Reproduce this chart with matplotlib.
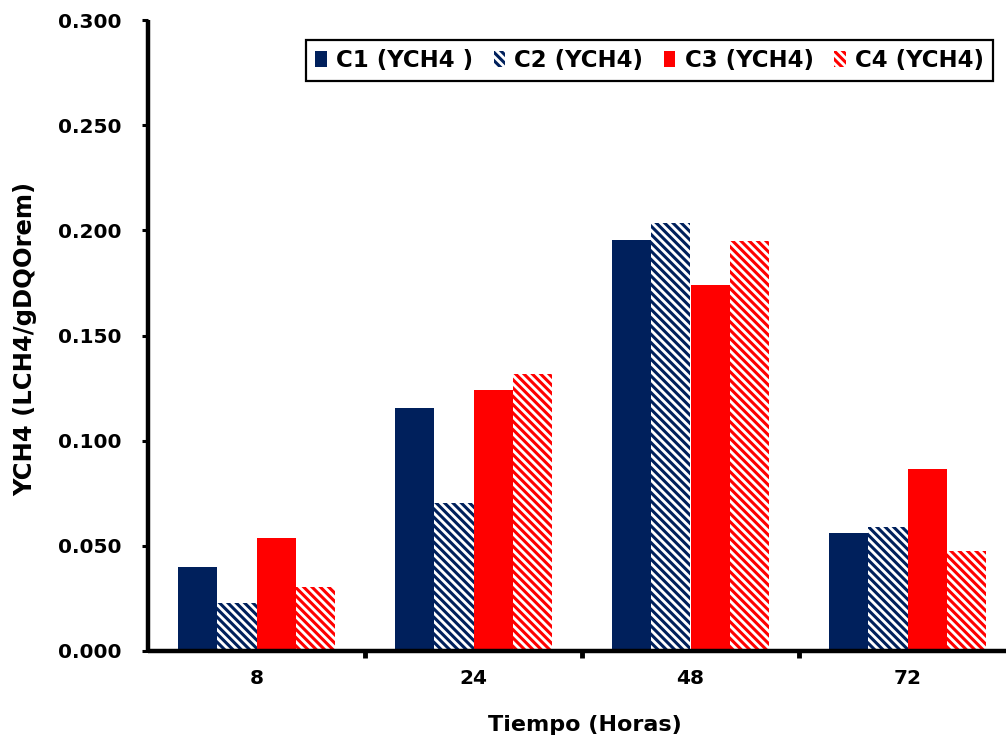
import matplotlib
matplotlib.use("Agg")
import matplotlib.pyplot as plt
import numpy as np

# Data
tiempos = ["8", "24", "48", "72"]
series_names = ["C1 (YCH4 )", "C2 (YCH4)", "C3 (YCH4)", "C4 (YCH4)"]
c1 = [0.040, 0.1155, 0.1955, 0.0562]
c2 = [0.0228, 0.0704, 0.2035, 0.0590]
c3 = [0.0537, 0.1240, 0.1740, 0.0865]
c4 = [0.0304, 0.1317, 0.1950, 0.0475]
y_ticks = [0.000, 0.050, 0.100, 0.150, 0.200, 0.250, 0.300]

navy = "#00205C"
red = "#FF0000"

plt.rcParams["font.family"] = ["DejaVu Sans"]
plt.rcParams["font.weight"] = "bold"
plt.rcParams["hatch.linewidth"] = 2.2

W, H = 1006, 743
fig = plt.figure(figsize=(W / 100, H / 100), dpi=100)
ax = fig.add_axes([148 / W, (H - 651) / H, (W - 148) / W, 631 / H])

x = np.arange(len(tiempos))
bw = 0.18
offsets = [-1.5 * bw, -0.5 * bw, 0.5 * bw, 1.5 * bw]
styles = [
    dict(color=navy),
    dict(facecolor="white", edgecolor=navy, hatch="\\\\\\\\", linewidth=0),
    dict(color=red),
    dict(facecolor="white", edgecolor=red, hatch="\\\\\\\\", linewidth=0),
]
for vals, off, st, name in zip([c1, c2, c3, c4], offsets, styles, series_names):
    ax.bar(x + off, vals, width=bw, label=name, **st)

ax.set_xlim(-0.5, -0.5 + (W - 148) / 217)
ax.set_ylim(0, 0.3)

# spines
for s in ["top", "right"]:
    ax.spines[s].set_visible(False)
for s in ["left", "bottom"]:
    ax.spines[s].set_linewidth(3.2)
    ax.spines[s].set_capstyle("butt")

# y ticks
ax.set_yticks(y_ticks)
ax.set_yticklabels([f"{v:.3f}" for v in y_ticks])
ax.tick_params(axis="y", direction="out", length=4, width=2.2, pad=15, labelsize=14.5)

# x ticks: boundary marks as majors, labels at group centers as minors
ax.set_xticks([0.5, 1.5, 2.5])
ax.set_xticklabels([])
ax.tick_params(axis="x", which="major", direction="out", length=5, width=3.5)
ax.set_xticks(x, minor=True)
ax.set_xticklabels(tiempos, minor=True)
ax.tick_params(axis="x", which="minor", length=0, pad=13, labelsize=14.5)

ax.set_xlabel("Tiempo (Horas)", fontsize=16, fontweight="bold")
ax.xaxis.set_label_coords((585 - 148) / (W - 148), (651 - 715) / 631)
ax.set_ylabel("YCH4 (LCH4/gDQOrem)", fontsize=17.5, fontweight="bold")
ax.yaxis.set_label_coords((37 - 148) / (W - 148), 0.5 - 3 / 631)

leg = ax.legend(
    loc="upper right",
    bbox_to_anchor=(993 / W, (H - 40) / H),
    bbox_transform=fig.transFigure,
    ncol=4,
    frameon=True,
    fancybox=False,
    framealpha=1,
    borderaxespad=0,
    handlelength=0.5,
    handleheight=0.65,
    handletextpad=0.4,
    columnspacing=0.9,
    borderpad=0.4,
    prop={"size": 16.5, "weight": "bold"},
)
leg.get_frame().set_edgecolor("black")
leg.get_frame().set_linewidth(1.6)

fig.savefig("out.png", dpi=100)
